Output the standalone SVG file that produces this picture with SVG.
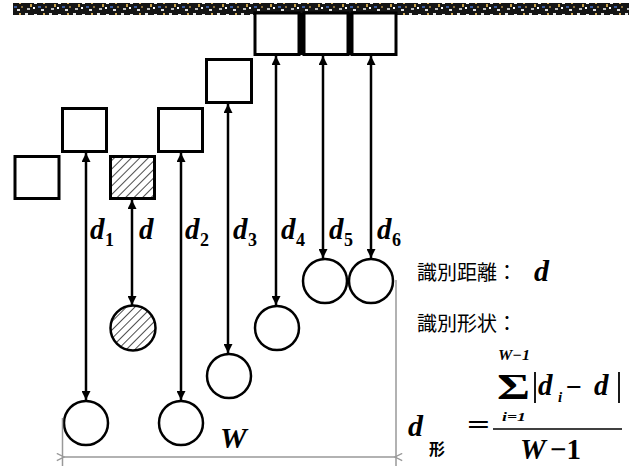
<svg xmlns="http://www.w3.org/2000/svg" width="629" height="466" viewBox="0 0 629 466">
<style>
.sq{fill:#fff;stroke:#000;stroke-width:3}
.ci{fill:#fff;stroke:#000;stroke-width:2.5}
.hat{fill:url(#hatch);stroke:#000;stroke-width:3}
.ar{stroke:#000;stroke-width:2.5;fill:none;marker-start:url(#ah);marker-end:url(#ah)}
.dim{stroke:#999;stroke-width:1.5;fill:none}
.m{font-family:"Liberation Serif","Times New Roman",serif;font-weight:bold;font-style:italic;fill:#000}
.n{font-family:"Liberation Serif","Times New Roman",serif;font-weight:bold;fill:#000}
.cj{font-family:"Noto Sans CJK JP","Noto Sans CJK TC",sans-serif;font-size:20px;fill:#000}
</style>
<defs>
<pattern id="hatch" width="6" height="6" patternUnits="userSpaceOnUse" patternTransform="rotate(45)">
<rect width="6" height="6" fill="#fff"/>
<line x1="0" y1="0" x2="0" y2="6" stroke="#000" stroke-width="1.4"/>
</pattern>
<pattern id="noise" width="24" height="12" patternUnits="userSpaceOnUse">
<rect width="24" height="12" fill="#151515"/>
<rect x="1" y="1" width="3" height="2" fill="#e8e8e8"/>
<rect x="6" y="4" width="2" height="3" fill="#c9a24a"/>
<rect x="10" y="2" width="3" height="2" fill="#f0f0f0"/>
<rect x="14" y="6" width="3" height="2" fill="#3a5a9a"/>
<rect x="19" y="1" width="2" height="3" fill="#d8b060"/>
<rect x="3" y="8" width="3" height="2" fill="#bdbdbd"/>
<rect x="9" y="7" width="2" height="2" fill="#fff"/>
<rect x="17" y="9" width="3" height="2" fill="#e0e0e0"/>
<rect x="21" y="6" width="2" height="2" fill="#8a7040"/>
</pattern>
<marker id="ah" viewBox="0 0 10 10" refX="10" refY="5" markerWidth="3.6" markerHeight="3.6" orient="auto-start-reverse" markerUnits="strokeWidth">
<path d="M0,0 L10,5 L0,10 z" fill="#000"/>
</marker>
<marker id="gh" viewBox="0 0 10 10" refX="1" refY="5" markerWidth="6" markerHeight="6" orient="auto-start-reverse" markerUnits="strokeWidth">
<path d="M9,1 L1,5 L9,9" fill="none" stroke="#999" stroke-width="1.5"/>
</marker>
</defs>
<rect width="629" height="466" fill="#fff"/>
<rect id="band" x="13" y="3" width="616" height="12" fill="url(#noise)"/>

<g id="sqA"><rect class="sq" x="15" y="156.5" width="44" height="42"/></g>
<g id="sqB"><rect class="sq" x="62.5" y="108.5" width="44" height="43"/></g>
<g id="sqC"><rect class="hat" x="110.5" y="156.5" width="44" height="42"/></g>
<g id="sqD"><rect class="sq" x="158.5" y="108.5" width="44" height="43"/></g>
<g id="sqE"><rect class="sq" x="206.5" y="59.5" width="45" height="43"/></g>
<g id="sqF"><rect class="sq" x="255" y="13" width="44" height="41.5"/></g>
<g id="sqG"><rect class="sq" x="304" y="13" width="44" height="41.5"/></g>
<g id="sqH"><rect class="sq" x="352" y="13" width="44" height="41.5"/></g>
<rect x="299" y="13" width="5" height="42" fill="#000"/>
<rect x="348" y="13" width="4" height="42" fill="#000"/>

<g id="c1"><circle class="ci" cx="86" cy="423" r="22"/></g>
<g id="cd"><circle class="hat" style="stroke-width:2.5" cx="133" cy="328" r="22.5"/></g>
<g id="c2"><circle class="ci" cx="181" cy="423" r="22"/></g>
<g id="c3"><circle class="ci" cx="229" cy="376" r="22"/></g>
<g id="c4"><circle class="ci" cx="277" cy="328" r="22"/></g>
<g id="c5"><circle class="ci" cx="325" cy="281" r="22"/></g>
<g id="c6"><circle class="ci" cx="371" cy="281" r="22"/></g>

<g id="connectors">
<line class="ar" x1="86" y1="153" x2="86" y2="400"/>
<line class="ar" x1="132" y1="200" x2="132" y2="305"/>
<line class="ar" x1="181" y1="153" x2="181" y2="400"/>
<line class="ar" x1="228" y1="104" x2="228" y2="353"/>
<line class="ar" x1="276" y1="56" x2="276" y2="305"/>
<line class="ar" x1="323" y1="56" x2="323" y2="258"/>
<line class="ar" x1="371" y1="56" x2="371" y2="258"/>
<line class="dim" x1="62.5" y1="418" x2="62.5" y2="466"/>
<line class="dim" x1="396" y1="280" x2="396" y2="466"/>
<line class="dim" x1="64" y1="457" x2="395" y2="457" marker-start="url(#gh)" marker-end="url(#gh)"/>
</g>

<g id="labels">
<text class="m" x="90" y="239" font-size="29">d</text><text class="n" x="105" y="246" font-size="18">1</text>
<text class="m" x="139" y="239" font-size="29">d</text>
<text class="m" x="185" y="239" font-size="29">d</text><text class="n" x="200" y="246" font-size="18">2</text>
<text class="m" x="233" y="239" font-size="29">d</text><text class="n" x="248" y="246" font-size="18">3</text>
<text class="m" x="281" y="239" font-size="29">d</text><text class="n" x="296" y="246" font-size="18">4</text>
<text class="m" x="329" y="239" font-size="29">d</text><text class="n" x="344" y="246" font-size="18">5</text>
<text class="m" x="377" y="239" font-size="29">d</text><text class="n" x="392" y="246" font-size="18">6</text>
<text class="m" x="220" y="448" font-size="30">W</text>
</g>

<g id="legend">
<text class="cj" x="417" y="280">識別距離：</text>
<text class="m" x="534" y="281" font-size="30">d</text>
<text class="cj" x="417" y="331">識別形状：</text>
</g>

<g id="formula">
<text class="m" x="408" y="436" font-size="30">d</text>
<text class="cj" x="429" y="455" style="font-size:16px;font-weight:bold">形</text>
<text class="n" x="467" y="434" font-size="28" textLength="23" lengthAdjust="spacingAndGlyphs">=</text>
<line x1="493" y1="429" x2="622" y2="429" stroke="#000" stroke-width="1.6"/>
<text class="m" x="498" y="360" font-size="15" textLength="32" lengthAdjust="spacingAndGlyphs">W−1</text>
<text class="n" x="497" y="399" font-size="36" textLength="33" lengthAdjust="spacingAndGlyphs">Σ</text>
<text class="m" x="502" y="421" font-size="12" textLength="24" lengthAdjust="spacingAndGlyphs">i=1</text>
<line x1="535" y1="372" x2="535" y2="403" stroke="#000" stroke-width="1.8"/>
<text class="m" x="538" y="395" font-size="29">d</text>
<text class="m" x="558" y="402" font-size="15">i</text>
<text class="n" x="566" y="396" font-size="28" textLength="16" lengthAdjust="spacingAndGlyphs">−</text>
<text class="m" x="594" y="395" font-size="29">d</text>
<line x1="619" y1="372" x2="619" y2="403" stroke="#000" stroke-width="1.8"/>
<text class="m" x="520" y="459" font-size="29">W</text>
<text class="n" x="550" y="459" font-size="29">−1</text>
</g>
</svg>
